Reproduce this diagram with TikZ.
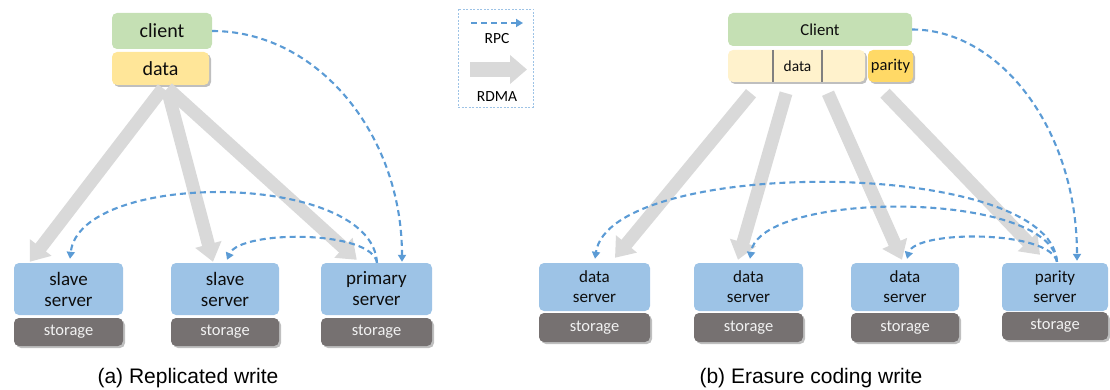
\documentclass[tikz,border=0pt]{standalone}
\usepackage{fontspec}
\setmainfont{Carlito}
\newfontfamily\capfont{Liberation Sans}
\usetikzlibrary{arrows.meta,shadows,calc}
\definecolor{cgreen}{HTML}{C5E0B4}
\definecolor{cyellow}{HTML}{FFE699}
\definecolor{clight}{HTML}{FFF2CC}
\definecolor{cparity}{HTML}{FFD966}
\definecolor{sblue}{HTML}{9DC3E6}
\definecolor{stgray}{HTML}{767171}
\definecolor{rgray}{HTML}{D9D9D9}
\definecolor{rblue}{HTML}{5B9BD5}
\begin{document}
\begin{tikzpicture}[x=1pt,y=-1pt,
  box/.style={rounded corners=5pt, inner sep=0pt, align=center, text=black!95},
  shad/.style={drop shadow={shadow xshift=2pt, shadow yshift=-2pt, opacity=0.25, fill=black}},
  serverL/.style={box, fill=sblue, minimum height=52pt, font=\fontsize{19}{21}\selectfont},
  storeL/.style={box, shad, fill=stgray, text=white!95!black, minimum height=28pt, font=\fontsize{16.5}{18}\selectfont},
  serverR/.style={box, fill=sblue, minimum height=48pt, font=\fontsize{17}{20}\selectfont},
  storeR/.style={box, shad, fill=stgray, text=white!95!black, minimum height=29pt, font=\fontsize{16.5}{18}\selectfont},
  rdma/.style={draw=rgray, line width=13pt, -{Triangle[width=26pt,length=18pt]}},
  rpc/.style={draw=rblue, line width=2.1pt, dash pattern=on 6pt off 4pt, -{Triangle[width=8pt,length=7pt]}},
  capt/.style={font=\capfont\fontsize{21}{24}\selectfont, text=black}
]
\useasboundingbox (0,0) rectangle (1110,390);

% ---------- (a) Replicated write ----------
\node[box, fill=cgreen, minimum width=100pt, minimum height=36pt, font=\fontsize{20}{22}\selectfont] (client) at (162,31) {client};
\node[box, shad, fill=cyellow, minimum width=97pt, minimum height=33pt, font=\fontsize{20}{22}\selectfont] (data) at (160.5,68.5) {data};

\node[serverL, minimum width=109pt] (s1) at (68.5,289) {slave\\server};
\node[storeL, minimum width=109pt] (st1) at (68.5,332) {storage};
\node[serverL, minimum width=108pt] (s2) at (225,289) {slave\\server};
\node[storeL, minimum width=108pt] (st2) at (225,332) {storage};
\node[serverL, minimum width=111pt] (s3) at (376.5,289) {primary\\server};
\node[storeL, minimum width=111pt] (st3) at (376.5,332) {storage};

\draw[rdma] ($(data.south)+(2.5,3)$) -- ($(s1.north west)+(16,-1)$);
\draw[rdma] ($(data.south)+(7,5)$) -- ($(s2.north)+(-12,-1)$);
\draw[rdma] ($(data.south)+(7,3)$) -- ($(s3.north west)+(36,-3)$);

\draw[rpc] (client.east) .. controls +(105,0) and +(0,-128) .. ($(s3.north)+(25.5,-1)$);
\draw[rpc] ($(s3.north)+(0.5,0)$) .. controls +(-5,-92) and +(10,-89) .. ($(s1.north)+(1.5,-4)$);
\draw[rpc] ($(s3.north)+(0.5,0)$) .. controls +(-5,-33) and +(13,-30) .. ($(s2.north)+(2,-3)$);

\node[capt] (capa) at (188,378) {(a) Replicated write};

% ---------- legend ----------
\node[draw=sblue, line width=0.6pt, dash pattern=on 2pt off 1.5pt, minimum width=75pt, minimum height=98pt, inner sep=0pt] (leg) at (495.5,58) {};
\coordinate (la) at (471,23);
\coordinate (lb) at (523,23);
\draw[rpc] (la) -- (lb);
\node[font=\fontsize{15.5}{17}\selectfont] (lrpc) at (497,39) {RPC};
\coordinate (lc) at (470,69.5);
\coordinate (ld) at (527,69.5);
\draw[draw=rgray, line width=15pt, -{Triangle[width=28pt,length=17pt]}] (lc) -- (ld);
\node[font=\fontsize{15.5}{17}\selectfont] (lrdma) at (497,97) {RDMA};

% ---------- (b) Erasure coding write ----------
\node[box, fill=cgreen, minimum width=184pt, minimum height=33pt, font=\fontsize{16.7}{19}\selectfont] (Client) at (820,29.5) {Client};
\node[box, shad, fill=clight, minimum width=137pt, minimum height=32pt, font=\fontsize{15.4}{17}\selectfont] (strip) at (796.5,66) {\hspace*{2pt}data};
\draw[draw=black!50, line width=1.6pt] ($(strip.north west)+(45,0)$) -- ($(strip.south west)+(45,0)$);
\draw[draw=black!50, line width=1.6pt] ($(strip.north west)+(94,0)$) -- ($(strip.south west)+(94,0)$);
\node[box, shad, fill=cparity, minimum width=45pt, minimum height=32pt, font=\fontsize{16.5}{18}\selectfont] (parity) at (890.5,66) {parity};

\node[serverR, minimum width=111pt] (d1) at (594.5,287) {data\\server};
\node[storeR, minimum width=111pt] (dt1) at (594.5,327.5) {storage};
\node[serverR, minimum width=109pt] (d2) at (748.5,287) {data\\server};
\node[storeR, minimum width=109pt] (dt2) at (748.5,327.5) {storage};
\node[serverR, minimum width=108pt] (d3) at (905,287) {data\\server};
\node[storeR, minimum width=108pt] (dt3) at (905,327.5) {storage};
\node[serverR, minimum width=106pt] (ps) at (1055,287) {parity\\server};
\node[storeR, minimum width=106pt, minimum height=28pt] (pst) at (1055,326) {storage};

\draw[rdma] ($(strip.south)+(-45.5,11)$) -- ($(d1.north)+(20.5,-5)$);
\draw[rdma] ($(strip.south)+(-10.5,11)$) -- ($(d2.north)+(-10.5,-3)$);
\draw[rdma] ($(strip.south)+(31.5,11)$) -- ($(d3.north)+(-3,-3)$);
\draw[rdma] ($(parity.south)+(-5.5,11)$) -- ($(ps.north)+(-15,-8)$);

\draw[rpc] (Client.east) .. controls +(88,0) and +(0,-131) .. ($(ps.north)+(22,-2)$);
\draw[rpc] ($(ps.north)+(2,-1)$) .. controls +(-7,-105) and +(15,-102) .. ($(d1.north)+(0.5,-4)$);
\draw[rpc] ($(ps.north)+(2,-1)$) .. controls +(-7,-72) and +(10,-69) .. ($(d2.north)+(1.5,-4)$);
\draw[rpc] ($(ps.north)+(2,-1)$) .. controls +(-7,-32) and +(8,-29) .. ($(d3.north)+(2,-4)$);

\node[capt] (capb) at (811,378) {(b) Erasure coding write};
\end{tikzpicture}
\end{document}
